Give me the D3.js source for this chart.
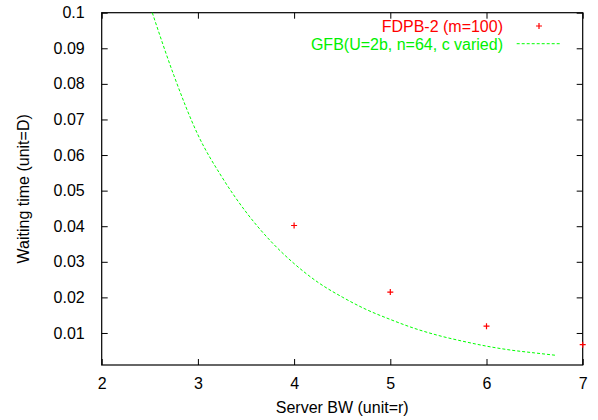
<!DOCTYPE html>
<html>
<head>
<meta charset="utf-8">
<script src="https://cdn.jsdelivr.net/npm/d3@7"></script>
<style>
  body { margin: 0; background: #fff; }
  svg { font-family: "Liberation Sans", Arial, sans-serif; }
</style>
</head>
<body>
<div id="chart"></div>
<script>
// FDPB-2 measured points
let fdpbBW = [4, 5, 6, 7];
let fdpbWait = [0.0402, 0.0215, 0.0119, 0.0067];

// GFB curve
let gfbBW = [2.526, 2.75, 3.0, 3.25, 3.5, 3.75, 4.0, 4.25, 4.5, 4.75, 5.0,
             5.25, 5.5, 5.75, 6.0, 6.25, 6.5, 6.73];
let gfbWait = [0.1, 0.0824, 0.0657, 0.0538, 0.0440, 0.0360, 0.0295, 0.0242, 0.0201, 0.0166, 0.0138,
               0.0113, 0.0093, 0.0077, 0.0063, 0.0052, 0.0044, 0.0037];

let xTicks = [2, 3, 4, 5, 6, 7];
let yTicks = [0.01, 0.02, 0.03, 0.04, 0.05, 0.06, 0.07, 0.08, 0.09, 0.1];

let seriesNames = ['FDPB-2 (m=100)', 'GFB(U=2b, n=64, c varied)'];

let W = 598, H = 420;
let margin = {top: 12.7, right: 15.3, bottom: 55, left: 101.7};
let width = W - margin.left - margin.right;
let height = H - margin.top - margin.bottom;

let svg = d3.select('#chart').append('svg')
    .attr('width', W).attr('height', H);
let plot = svg.append('g')
    .attr('transform', 'translate(' + margin.left + ',' + margin.top + ')');

let x = d3.scaleLinear().domain([2, 7]).range([0, width]);
let y = d3.scaleLinear().domain([0.001, 0.1]).range([height, 0]);

// axes with inward ticks, mirrored on top and right
let fs = '16px';
function styleAxis(g, labels) {
    g.select('.domain').remove();
    g.selectAll('.tick line').attr('stroke', '#000').attr('stroke-width', 1);
    g.selectAll('.tick text').attr('fill', '#000').style('font-size', fs)
        .style('font-family', '"Liberation Sans", Arial, sans-serif');
    if (!labels) g.selectAll('.tick text').remove();
}

plot.append('g').attr('transform', 'translate(0,' + height + ')')
    .call(d3.axisBottom(x).tickValues(xTicks).tickSizeInner(-6).tickPadding(13).tickFormat(d3.format('d')))
    .call(g => styleAxis(g, true));
plot.append('g')
    .call(d3.axisTop(x).tickValues(xTicks).tickSizeInner(-6))
    .call(g => styleAxis(g, false));
plot.append('g')
    .call(d3.axisLeft(y).tickValues(yTicks).tickSizeInner(-6).tickPadding(17).tickFormat(d => String(+d.toFixed(2))))
    .call(g => styleAxis(g, true));
plot.append('g').attr('transform', 'translate(' + width + ',0)')
    .call(d3.axisRight(y).tickValues(yTicks).tickSizeInner(-6))
    .call(g => styleAxis(g, false));

plot.append('rect')
    .attr('width', width).attr('height', height)
    .attr('fill', 'none').attr('stroke', '#000').attr('stroke-width', 1.2);

// axis titles
svg.append('text')
    .attr('x', margin.left + width / 2).attr('y', 413)
    .attr('text-anchor', 'middle').style('font-size', fs)
    .text('Server BW (unit=r)');
svg.append('text')
    .attr('transform', 'translate(29,' + (margin.top + height / 2) + ') rotate(-90)')
    .attr('text-anchor', 'middle').style('font-size', fs)
    .text('Waiting time (unit=D)');

// GFB curve
let gfbData = gfbBW.map((b, i) => ({bw: b, wait: gfbWait[i]}));
let line = d3.line().x(d => x(d.bw)).y(d => y(d.wait)).curve(d3.curveMonotoneX);
plot.append('path').datum(gfbData)
    .attr('d', line)
    .attr('fill', 'none').attr('stroke', '#00ff00')
    .attr('stroke-width', 1).attr('stroke-dasharray', '3,2');

// FDPB points as plus marks
function plusPath(s) {
    return 'M' + (-s) + ',0H' + s + 'M0,' + (-s) + 'V' + s;
}
plot.selectAll('.pt').data(fdpbBW.map((b, i) => ({bw: b, wait: fdpbWait[i]})))
    .enter().append('path').attr('class', 'pt')
    .attr('transform', d => 'translate(' + x(d.bw) + ',' + y(d.wait) + ')')
    .attr('d', plusPath(3))
    .attr('stroke', '#ff0000').attr('stroke-width', 1.2).attr('fill', 'none');

// legend
let legend = svg.append('g');
legend.append('text')
    .attr('x', 503).attr('y', 32)
    .attr('text-anchor', 'end').attr('fill', '#ff0000').style('font-size', fs)
    .text(seriesNames[0]);
legend.append('path')
    .attr('transform', 'translate(539,26)')
    .attr('d', plusPath(3))
    .attr('stroke', '#ff0000').attr('stroke-width', 1.2).attr('fill', 'none');
legend.append('text')
    .attr('x', 503).attr('y', 49.5)
    .attr('text-anchor', 'end').attr('fill', '#00f000').style('font-size', fs)
    .text(seriesNames[1]);
legend.append('line')
    .attr('x1', 516.7).attr('x2', 560).attr('y1', 43.7).attr('y2', 43.7)
    .attr('stroke', '#00ff00').attr('stroke-width', 1).attr('stroke-dasharray', '3,2');
</script>
</body>
</html>
